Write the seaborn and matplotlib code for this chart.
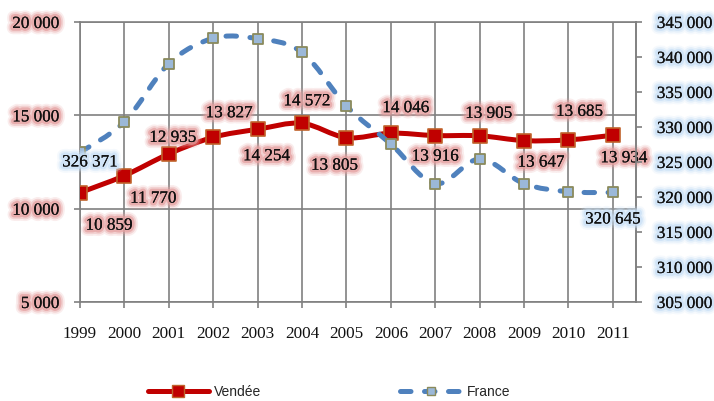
import numpy as np
import matplotlib
matplotlib.use("Agg")
import matplotlib.pyplot as plt
import matplotlib.patheffects as pe
from matplotlib.path import Path
from matplotlib.patches import PathPatch
from matplotlib.lines import Line2D
import seaborn as sns

# ~~~ Data ~~~
years = [1999, 2000, 2001, 2002, 2003, 2004, 2005, 2006, 2007, 2008, 2009, 2010, 2011]
vendee = [10859, 11770, 12935, 13827, 14254, 14572, 13805, 14046, 13916, 13905, 13647, 13685, 13934]
france = [326371, 330750, 339050, 342670, 342620, 340670, 333000, 327570, 321900, 325430, 321900, 320760, 320645]
left_ticks = [5000, 10000, 15000, 20000]
right_ticks = [305000, 310000, 315000, 320000, 325000, 330000, 335000, 340000, 345000]

# label offsets in pixels (dx, dy) for the Vendée labels
vendee_offsets = [(29, -33), (29, -23), (4, 16), (16, 24), (9, -27), (5, 22), (-12, -28),
                  (15, 25), (0, -21), (9, 22), (17, -22), (11, 28), (11, -23)]

RED = "#C00000"
BLUE = "#4F81BD"
GRID = "#808080"
PINK = "#E5A0A0"
SKY = "#C9E0F6"


def fmt(v):
    return f"{v:,}".replace(",", " ")


def smooth_path(x, y):
    # Excel-like smoothed line: Catmull-Rom as cubic Bezier segments
    pts = np.column_stack([x, y]).astype(float)
    n = len(pts)
    verts = [pts[0]]
    codes = [Path.MOVETO]
    for i in range(n - 1):
        p0 = pts[max(i - 1, 0)]
        p1 = pts[i]
        p2 = pts[i + 1]
        p3 = pts[min(i + 2, n - 1)]
        c1 = p1 + (p2 - p0) / 6
        c2 = p2 - (p3 - p1) / 6
        verts += [c1, c2, p2]
        codes += [Path.CURVE4] * 3
    return Path(verts, codes)


def glow(color):
    # soft halo behind the text, like Excel's glow effect
    return [pe.withStroke(linewidth=9, foreground=color, alpha=0.18),
            pe.withStroke(linewidth=6.5, foreground=color, alpha=0.35),
            pe.withStroke(linewidth=4, foreground=color, alpha=0.7),
            pe.Normal()]


sns.set_theme(style="white")
plt.rcParams["font.family"] = ["Liberation Serif", "DejaVu Serif"]

fig = plt.figure(figsize=(7.14, 4.01), dpi=100)
ax = fig.add_axes([80 / 714, 1 - 302 / 401, 556 / 714, 280 / 401])
ax2 = ax.twinx()

# ~~~ Primary axis: Vendée ~~~
ax.set_xlim(1999, 2011.52)
ax.set_ylim(5000, 20000)
ax.set_xticks(years)
ax.set_xticklabels([str(y) for y in years])
ax.set_yticks(left_ticks)
ax.set_yticklabels([fmt(v) for v in left_ticks])
ax.grid(True, color=GRID, linewidth=1.2)
for s in ax.spines.values():
    s.set_visible(True)
    s.set_color(GRID)
    s.set_linewidth(1.2)
ax.tick_params(axis="both", which="both", direction="out", length=4, width=1.2, color=GRID,
               labelsize=12.3, labelcolor="#111111")
ax.tick_params(axis="x", pad=13, bottom=True)
ax.tick_params(axis="y", pad=11, left=True)

ax.add_patch(PathPatch(smooth_path(years, vendee), fill=False, edgecolor=RED, linewidth=3.6,
                       capstyle="round", joinstyle="round", zorder=3))
sns.scatterplot(x=years, y=vendee, marker="s", s=95, color=RED, edgecolor="#C0622B",
                linewidth=1.2, ax=ax, zorder=4, legend=False)

for x, v, (dx, dy) in zip(years, vendee, vendee_offsets):
    ax.annotate(fmt(v), (x, v), xytext=(dx, dy), textcoords="offset pixels",
                ha="center", va="center", fontsize=12.3, color="#111111",
                path_effects=glow(PINK), zorder=6)

# ~~~ Secondary axis: France ~~~
ax2.set_ylim(305000, 345000)
ax2.set_yticks(right_ticks)
ax2.set_yticklabels([fmt(v) for v in right_ticks])
ax2.grid(False)
for s in ax2.spines.values():
    s.set_visible(False)
ax2.spines["right"].set_visible(True)
ax2.spines["right"].set_color(GRID)
ax2.spines["right"].set_linewidth(1.2)
ax2.tick_params(axis="y", direction="out", length=4, width=1.2, color=GRID, right=True,
                labelsize=12.3, labelcolor="#111111", pad=11)

ax2.add_patch(PathPatch(smooth_path(years, france), fill=False, edgecolor=BLUE, linewidth=3.6,
                        linestyle=(0, (2.1, 2.7)), capstyle="round", zorder=3))
sns.scatterplot(x=years, y=france, marker="s", s=45, color="#9BB8D8", edgecolor="#8A8A5C",
                linewidth=1.3, ax=ax2, zorder=4, legend=False)

ax2.annotate(fmt(france[0]), (years[0], france[0]), xytext=(10, -10), textcoords="offset pixels",
             ha="center", va="center", fontsize=12.3, color="#111111",
             path_effects=glow(SKY), zorder=6)
ax2.annotate(fmt(france[-1]), (years[-1], france[-1]), xytext=(0, -27), textcoords="offset pixels",
             ha="center", va="center", fontsize=12.3, color="#111111",
             path_effects=glow(SKY), zorder=6)

for t in ax.get_yticklabels():
    t.set_path_effects(glow(PINK))
for t in ax2.get_yticklabels():
    t.set_path_effects(glow(SKY))

# ~~~ Legend ~~~
handles = [
    Line2D([], [], color=RED, linewidth=3.6, marker="s", markersize=8, markerfacecolor=RED,
           markeredgecolor="#C0622B", solid_capstyle="round"),
    Line2D([], [], color=BLUE, linewidth=3.6, linestyle=(0, (2.1, 2.7)), marker="s", markersize=6,
           markerfacecolor="#9BB8D8", markeredgecolor="#8A8A5C", dash_capstyle="round"),
]
fig.legend(handles, ["Vendée", "France"], loc="center", bbox_to_anchor=(0.461, 0.022), ncol=2,
           frameon=False, handlelength=4.4, columnspacing=10, handletextpad=0.4,
           prop={"family": "Liberation Sans", "size": 10})

fig.savefig("out.png", dpi=100)
